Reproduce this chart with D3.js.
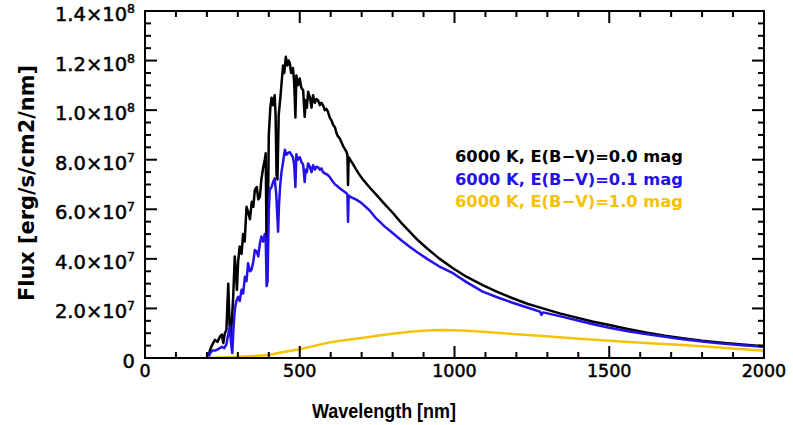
<!DOCTYPE html>
<html>
<head>
<meta charset="utf-8">
<script src="https://cdn.jsdelivr.net/npm/d3@7"></script>
<style>
  body { margin: 0; background: #fff; }
  svg { display: block; }
  text { font-family: 'DejaVu Sans', sans-serif; fill: #000; }
</style>
</head>
<body>
<div id="app"></div>
<script>
// flux values are in units of 1e7 erg/s/cm2/nm, wavelength in nm
const seriesLabels = ['6000 K, E(B\u2212V)=0.0 mag', '6000 K, E(B\u2212V)=0.1 mag', '6000 K, E(B\u2212V)=1.0 mag'];
const seriesColors = ['#000000', '#2410e8', '#f6c200'];

const ebv00 = [
  [200,0],[204,0],[210,0.32],[218,0.55],[226,0.73],[234,0.65],[242,0.86],[248,0.95],[253,0.6],[258,1.0],
  [263,1.13],[269,3.0],[273,1.4],[277,0.86],[281,1.6],[285,2.47],[290,4.1],[294,3.4],[297,2.75],[301,3.9],
  [306,4.5],[312,4.2],[317,5.0],[322,4.7],[328,6.1],[333,5.9],[339,5.6],[345,6.3],[350,6.1],[355,6.78],
  [361,6.9],[366,6.4],[371,6.5],[376,7.2],[382,7.7],[387,8.0],[390,8.26],[393,4.2],[396,4.3],[400,9.0],
  [405,10.1],[409,10.5],[414,10.2],[419,10.6],[422,9.8],[425,7.4],[428,7.2],[432,9.8],[438,10.6],[442,11.2],
  [446,11.8],[450,11.5],[455,12.15],[460,11.8],[464,12.0],[468,11.9],[472,11.5],[478,11.7],[482,11.1],[486,9.7],
  [489,11.4],[494,11.0],[500,11.28],[505,10.9],[511,10.8],[516,9.73],[519,10.4],[523,10.1],[527,10.74],[533,10.5],
  [538,10.1],[543,10.6],[549,10.3],[554,10.45],[559,10.4],[565,10.2],[570,10.3],[575,10.2],[581,10.0],[586,10.05],
  [591,9.94],[597,9.7],[602,9.6],[608,9.4],[614,9.3],[618,9.1],[623,8.95],[629,8.86],[635,8.7],[640,8.55],
  [645,8.45],[651,8.32],[654,8.2],[656,6.98],[658,8.1],[664,7.98],[672,7.82],[681,7.63],[690,7.45],[704,7.2],
  [726,6.88],[750,6.55],[775,6.2],[801,5.85],[828,5.45],[855,5.1],[882,4.75],[909,4.45],[950,4.02],[995,3.62],
  [1040,3.27],[1091,2.94],[1140,2.66],[1188,2.41],[1235,2.19],[1285,2.0],[1340,1.8],[1392,1.64],[1445,1.47],[1500,1.33],
  [1560,1.17],[1618,1.03],[1680,0.9],[1737,0.8],[1800,0.7],[1855,0.63],[1920,0.55],[2000,0.47]
];

const ebv01 = [
  [200,0],[206,0.05],[210,0.2],[218,0.3],[226,0.3],[235,0.35],[248,0.45],[256,0.4],[263,0.55],[268,0.9],
  [274,1.26],[278,0.6],[282,0.2],[286,1.2],[290,1.94],[295,2.3],[301,2.47],[306,2.3],[312,2.75],[317,2.6],
  [323,3.28],[328,3.1],[333,3.82],[339,3.5],[344,3.55],[350,3.9],[355,4.36],[361,4.3],[366,4.1],[371,4.6],
  [376,4.9],[382,4.7],[387,5.0],[390,4.8],[393,2.9],[396,3.1],[400,5.9],[403,6.78],[409,6.9],[414,7.1],
  [419,7.25],[424,6.6],[428,5.6],[430,5.1],[433,6.2],[437,7.0],[441,7.5],[446,7.9],[452,8.4],[457,8.2],
  [462,8.27],[468,8.3],[473,8.2],[478,8.1],[482,7.8],[486,6.9],[489,8.22],[494,8.0],[500,8.1],[505,7.92],
  [511,7.8],[516,7.1],[519,7.6],[523,7.5],[527,7.85],[533,7.7],[538,7.5],[543,7.78],[549,7.6],[554,7.72],
  [559,7.7],[565,7.6],[570,7.65],[575,7.5],[581,7.45],[586,7.42],[591,7.38],[597,7.3],[602,7.2],[608,7.1],
  [614,7.0],[620,6.95],[629,6.85],[640,6.75],[651,6.65],[654,6.6],[656,5.5],[658,6.55],[664,6.5],[672,6.45],
  [681,6.4],[694,6.3],[704,6.2],[726,5.95],[747,5.63],[775,5.3],[801,5.03],[828,4.75],[855,4.49],[882,4.25],
  [909,4.02],[950,3.7],[995,3.42],[1040,3.05],[1091,2.68],[1140,2.44],[1188,2.23],[1235,2.04],[1276,1.87],[1281,1.74],
  [1286,1.84],[1340,1.69],[1392,1.53],[1445,1.37],[1500,1.22],[1560,1.08],[1618,0.97],[1680,0.86],[1737,0.76],[1800,0.67],
  [1855,0.59],[1920,0.52],[2000,0.45]
];

const ebv10 = [
  [200,0],[250,0.02],[300,0.05],[350,0.08],[400,0.12],[452,0.25],[500,0.35],[550,0.5],[597,0.63],[650,0.73],
  [694,0.8],[750,0.9],[800,0.98],[855,1.06],[910,1.11],[962,1.13],[1020,1.11],[1091,1.06],[1188,0.97],[1285,0.89],
  [1392,0.79],[1500,0.7],[1618,0.61],[1737,0.52],[1855,0.42],[2000,0.29]
];

const xTicks = [0, 500, 1000, 1500, 2000];
const yTicks = [0, 2, 4, 6, 8, 10, 12, 14]; // x 1e7
const yTickLabels = [['0', ''], ['2.0\u00d710', '7'], ['4.0\u00d710', '7'], ['6.0\u00d710', '7'], ['8.0\u00d710', '7'],
  ['1.0\u00d710', '8'], ['1.2\u00d710', '8'], ['1.4\u00d710', '8']];

const width = 793, height = 425;
const plot = { left: 145, right: 764, top: 11, bottom: 358 };

const svg = d3.select('#app')
  .append('svg')
  .attr('width', width)
  .attr('height', height);

const x = d3.scaleLinear().domain([0, 2000]).range([plot.left, plot.right]);
const y = d3.scaleLinear().domain([0, 14]).range([plot.bottom, plot.top]);

svg.append('clipPath')
  .attr('id', 'plotclip')
  .append('rect')
  .attr('x', plot.left)
  .attr('y', plot.top)
  .attr('width', plot.right - plot.left)
  .attr('height', plot.bottom - plot.top);

const line = d3.line()
  .x(d => x(d[0]))
  .y(d => y(d[1]));

const curves = svg.append('g').attr('clip-path', 'url(#plotclip)');
[ebv00, ebv01, ebv10].forEach((s, i) => {
  curves.append('path')
    .datum(s)
    .attr('d', line)
    .attr('fill', 'none')
    .attr('stroke', seriesColors[i])
    .attr('stroke-width', 2.5)
    .attr('stroke-linejoin', 'round');
});

// frame and ticks on all four sides
const axisG = svg.append('g')
  .attr('stroke', '#000')
  .attr('stroke-width', 2);

axisG.append('rect')
  .attr('x', plot.left)
  .attr('y', plot.top)
  .attr('width', plot.right - plot.left)
  .attr('height', plot.bottom - plot.top)
  .attr('fill', 'none');

const xMinor = d3.range(0, 2001, 100);
const yMinor = d3.range(0, 14.01, 0.5);

xMinor.forEach(v => {
  const len = v % 500 === 0 ? 12 : 6;
  axisG.append('line')
    .attr('x1', x(v)).attr('x2', x(v))
    .attr('y1', plot.bottom).attr('y2', plot.bottom - len);
  axisG.append('line')
    .attr('x1', x(v)).attr('x2', x(v))
    .attr('y1', plot.top).attr('y2', plot.top + len);
});

yMinor.forEach(v => {
  const len = Math.abs(v % 2) < 1e-6 ? 12 : 6;
  axisG.append('line')
    .attr('x1', plot.left).attr('x2', plot.left + len)
    .attr('y1', y(v)).attr('y2', y(v));
  axisG.append('line')
    .attr('x1', plot.right).attr('x2', plot.right - len)
    .attr('y1', y(v)).attr('y2', y(v));
});

// tick labels
svg.append('g')
  .selectAll('text')
  .data(xTicks)
  .join('text')
  .attr('x', d => x(d))
  .attr('y', 377)
  .attr('text-anchor', 'middle')
  .attr('font-size', 17.5)
  .attr('stroke', '#000')
  .attr('stroke-width', 0.5)
  .text(d => d);

const yLab = svg.append('g')
  .selectAll('text')
  .data(yTicks)
  .join('text')
  .attr('x', 135)
  .attr('y', d => y(d) + 10)
  .attr('text-anchor', 'end')
  .attr('font-size', 19.5)
  .attr('stroke', '#000')
  .attr('stroke-width', 0.5);

yLab.append('tspan')
  .text((d, i) => yTickLabels[i][0]);
yLab.append('tspan')
  .attr('dy', -8)
  .attr('font-size', 12.5)
  .text((d, i) => yTickLabels[i][1]);

// axis titles
svg.append('text')
  .attr('x', 384)
  .attr('y', 418)
  .attr('text-anchor', 'middle')
  .style('font-family', "'Liberation Sans', Arial, sans-serif")
  .attr('font-weight', 'bold')
  .attr('font-size', 19.5)
  .attr('textLength', 144)
  .attr('lengthAdjust', 'spacingAndGlyphs')
  .text('Wavelength [nm]');

svg.append('text')
  .attr('transform', 'translate(34,183) rotate(-90)')
  .attr('text-anchor', 'middle')
  .attr('font-weight', 'bold')
  .attr('font-size', 20.5)
  .attr('textLength', 236)
  .attr('lengthAdjust', 'spacingAndGlyphs')
  .text('Flux [erg/s/cm2/nm]');

// legend
svg.append('g')
  .selectAll('text')
  .data(seriesLabels)
  .join('text')
  .attr('x', 455)
  .attr('y', (d, i) => 162 + i * 22.5)
  .attr('font-weight', 'bold')
  .attr('font-size', 16)
  .attr('textLength', 228)
  .attr('lengthAdjust', 'spacingAndGlyphs')
  .style('fill', (d, i) => seriesColors[i])
  .text(d => d);
</script>
</body>
</html>
